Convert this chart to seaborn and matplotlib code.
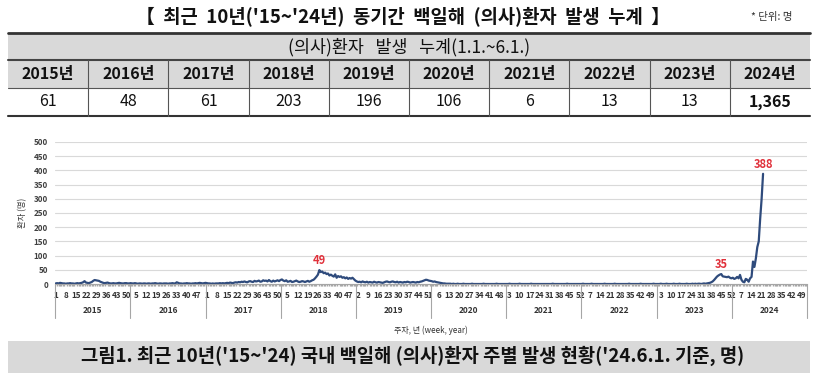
import matplotlib
matplotlib.use("Agg")
import matplotlib.pyplot as plt
import matplotlib.transforms as mtransforms
from matplotlib.patches import Rectangle
import pandas as pd
import seaborn as sns

# table: cumulative cases 1.1.~6.1.
years = [2015, 2016, 2017, 2018, 2019, 2020, 2021, 2022, 2023, 2024]
table_counts = ["61", "48", "61", "203", "196", "106", "6", "13", "13", "1,365"]

# weeks per year on the category axis
weeks_in_year = [52, 53, 52, 52, 52, 52, 52, 53, 52, 52]

# weekly cases
w2015 = [2, 3, 2, 4, 3, 2, 2, 1, 2, 2, 3, 2, 2,
         1, 2, 3, 2, 3, 4, 6, 10, 5, 4, 3, 5, 7,
         11, 14, 13, 12, 11, 8, 6, 4, 3, 4, 5, 3, 2,
         2, 3, 2, 2, 3, 4, 3, 2, 2, 3, 3, 2, 2]
w2016 = [3, 2, 2, 3, 2, 1, 2, 2, 1, 2, 2, 1, 2,
         2, 1, 2, 2, 3, 2, 1, 2, 2, 1, 2, 2, 2,
         1, 2, 2, 3, 2, 2, 6, 4, 2, 2, 1, 2, 2,
         3, 2, 2, 1, 2, 2, 3, 2, 3, 4, 3, 2, 3, 4]
w2017 = [3, 2, 2, 1, 2, 1, 2, 2, 2, 3, 2, 3, 2,
         3, 4, 3, 5, 4, 3, 5, 6, 5, 7, 6, 8, 7,
         9, 7, 6, 9, 10, 8, 7, 11, 9, 10, 12, 8, 9,
         13, 11, 12, 9, 14, 10, 8, 12, 9, 11, 13, 10, 14]
w2018 = [16, 12, 10, 13, 8, 9, 11, 7, 8, 10, 12, 9, 7,
         8, 10, 9, 7, 9, 11, 8, 10, 13, 15, 20, 26, 33,
         49, 42, 44, 38, 40, 35, 37, 30, 33, 29, 26, 34, 22,
         28, 25, 27, 22, 24, 20, 23, 18, 21, 19, 22, 17, 12]
w2019 = [9, 7, 8, 6, 9, 7, 6, 8, 5, 7, 6, 5, 8,
         6, 5, 7, 6, 5, 4, 6, 8, 9, 7, 6, 8, 9,
         7, 6, 8, 5, 7, 6, 5, 7, 6, 8, 7, 5, 6,
         7, 6, 5, 7, 6, 8, 9, 11, 13, 15, 14, 12, 11]
w2020 = [10, 8, 9, 7, 6, 5, 4, 3, 2, 2, 1, 1, 1,
         1, 0, 1, 0, 0, 1, 0, 0, 0, 1, 0, 0, 0,
         0, 0, 1, 0, 0, 0, 0, 0, 0, 0, 1, 0, 0,
         0, 0, 0, 0, 0, 0, 1, 0, 0, 0, 0, 0, 0]
w2021 = [0, 0, 1, 0, 0, 0, 0, 0, 0, 1, 0, 0, 0,
         0, 0, 0, 0, 1, 0, 0, 0, 0, 0, 0, 0, 0,
         0, 0, 0, 0, 0, 0, 1, 0, 0, 0, 0, 0, 0,
         0, 0, 0, 1, 0, 0, 0, 0, 0, 0, 0, 0, 0]
w2022 = [0, 1, 0, 0, 0, 0, 0, 1, 0, 0, 0, 0, 0,
         0, 0, 0, 1, 0, 0, 0, 0, 0, 0, 1, 0, 0,
         0, 0, 0, 0, 0, 0, 0, 1, 0, 0, 0, 0, 0,
         0, 0, 1, 0, 0, 0, 0, 0, 0, 0, 0, 1, 0, 0]
w2023 = [0, 0, 1, 0, 0, 0, 1, 0, 0, 0, 0, 1, 0,
         0, 0, 1, 0, 0, 0, 0, 1, 0, 0, 0, 1, 0,
         1, 0, 1, 1, 0, 1, 2, 1, 2, 3, 4, 6, 9,
         14, 20, 26, 30, 33, 35, 27, 26, 25, 24, 26, 22, 20]
w2024 = [22, 18, 20, 25, 20, 32, 15, 8, 6, 18, 15, 8, 20,
         25, 79, 60, 90, 130, 150, 230, 300, 388]
weekly = [w2015, w2016, w2017, w2018, w2019, w2020, w2021, w2022, w2023, w2024]

# (year, week) of the labelled peaks
peaks = [(2018, 27), (2023, 45), (2024, 22)]

title = "【  최근  10년('15~'24년)  동기간  백일해  (의사)환자  발생  누계  】"
unit_note = "* 단위: 명"
table_head = "(의사)환자   발생   누계(1.1.~6.1.)"
caption = "그림1. 최근 10년('15~'24) 국내 백일해 (의사)환자 주별 발생 현황('24.6.1. 기준, 명)"

# build long frame with a running category index
rows = []
offsets = {}
pos = 0
for yr, n, vals in zip(years, weeks_in_year, weekly):
    offsets[yr] = pos
    for wk, v in enumerate(vals, 1):
        rows.append({"year": yr, "week": wk, "idx": pos + wk - 1, "cases": v})
    pos += n
total_weeks = pos
df = pd.DataFrame(rows)

sns.set_theme(style="white")
plt.rcParams["font.family"] = ["Noto Sans CJK KR", "DejaVu Sans"]

fig = plt.figure(figsize=(8.2, 3.73), dpi=100)

# background axes in pixel units for title / table / caption
bg = fig.add_axes([0, 0, 1, 1])
bg.set_xlim(0, 820)
bg.set_ylim(373, 0)
bg.axis("off")

bg.text(403, 16, title, ha="center", va="center", fontsize=13.5, fontweight="bold", color="#111111")
bg.text(772, 17, unit_note, ha="center", va="center", fontsize=7.5, color="#333333")

tx0, tw = 8, 80.2
gray = "#d9d9d9"
bg.add_patch(Rectangle((tx0, 33), tw * 10, 55, facecolor=gray, edgecolor="none"))
bg.plot([tx0, tx0 + tw * 10], [33, 33], color="#333333", lw=2)
bg.plot([tx0, tx0 + tw * 10], [60, 60], color="#444444", lw=1.5)
bg.plot([tx0, tx0 + tw * 10], [88, 88], color="#555555", lw=0.8)
bg.plot([tx0, tx0 + tw * 10], [116, 116], color="#333333", lw=1.5)
for i in range(1, 10):
    bg.plot([tx0 + tw * i] * 2, [60, 116], color="#555555", lw=0.8)
bg.text(tx0 + tw * 5, 47, table_head, ha="center", va="center", fontsize=12.5, color="#111111")
for i, (yr, cnt) in enumerate(zip(years, table_counts)):
    cx = tx0 + tw * (i + 0.5)
    bg.text(cx, 74, f"{yr}년", ha="center", va="center", fontsize=11.5, fontweight="bold", color="#111111")
    bg.text(cx, 102, cnt, ha="center", va="center", fontsize=11.5,
            fontweight="bold" if i == 9 else "normal", color="#111111")

bg.add_patch(Rectangle((8, 341), 802, 32, facecolor=gray, edgecolor="none"))
bg.text(413, 356, caption, ha="center", va="center", fontsize=13.5, fontweight="bold", color="#111111")

# chart
ax = fig.add_axes([55 / 820, (373 - 284) / 373, 752 / 820, 142 / 373])
ax.patch.set_alpha(0)
sns.lineplot(data=df, x="idx", y="cases", ax=ax, color="#2f4b7c", linewidth=1.6)
ax.set_xlim(-0.5, total_weeks - 0.5)
ax.set_ylim(0, 500)
ax.set_yticks(range(0, 501, 50))
ax.yaxis.grid(True, color="#d9d9d9", lw=0.8)
ax.set_axisbelow(True)
for s in ["top", "right", "left"]:
    ax.spines[s].set_visible(False)
ax.spines["bottom"].set_color("#a6a6a6")
ax.spines["bottom"].set_linewidth(0.8)

tick_pos, tick_lab = [], []
for yr, n in zip(years, weeks_in_year):
    for wk in range(1, n + 1):
        i = offsets[yr] + wk - 1
        if i % 7 == 0:
            tick_pos.append(i)
            tick_lab.append(str(wk))
ax.set_xticks(tick_pos, tick_lab)
ax.set_xticks(range(total_weeks), minor=True)
ax.tick_params(axis="x", which="major", length=2, color="#a6a6a6", pad=3,
               labelsize=5.8, labelcolor="#333333")
ax.tick_params(axis="x", which="minor", length=1.5, color="#a6a6a6", bottom=True)
ax.tick_params(axis="y", length=0, pad=5, labelsize=5.8, labelcolor="#404040")
for lab in ax.get_xticklabels() + ax.get_yticklabels():
    lab.set_fontweight("bold")

trans = mtransforms.blended_transform_factory(ax.transData, ax.transAxes)
for yr, n in zip(years, weeks_in_year):
    x0 = offsets[yr] - 0.5
    ax.plot([x0, x0], [0, -0.24], transform=trans, color="#a6a6a6", lw=0.8, clip_on=False)
    ax.text(x0 + n / 2, -0.19, str(yr), transform=trans, ha="center", va="center",
            fontsize=6, fontweight="bold", color="#333333")
ax.plot([total_weeks - 0.5] * 2, [0, -0.24], transform=trans, color="#a6a6a6", lw=0.8, clip_on=False)

ax.set_xlabel("주차, 년 (week, year)", fontsize=5.8, color="#333333")
ax.xaxis.set_label_coords(0.5, -0.296)
ax.set_ylabel("환자 (명)", fontsize=6, color="#333333", labelpad=5)

for yr, wk in peaks:
    v = weekly[years.index(yr)][wk - 1]
    ax.annotate(str(v), (offsets[yr] + wk - 1, v), xytext=(0, 7), textcoords="offset points",
                ha="center", va="center", fontsize=8, fontweight="bold", color="#e0303a")

fig.savefig("out.png", dpi=100)
